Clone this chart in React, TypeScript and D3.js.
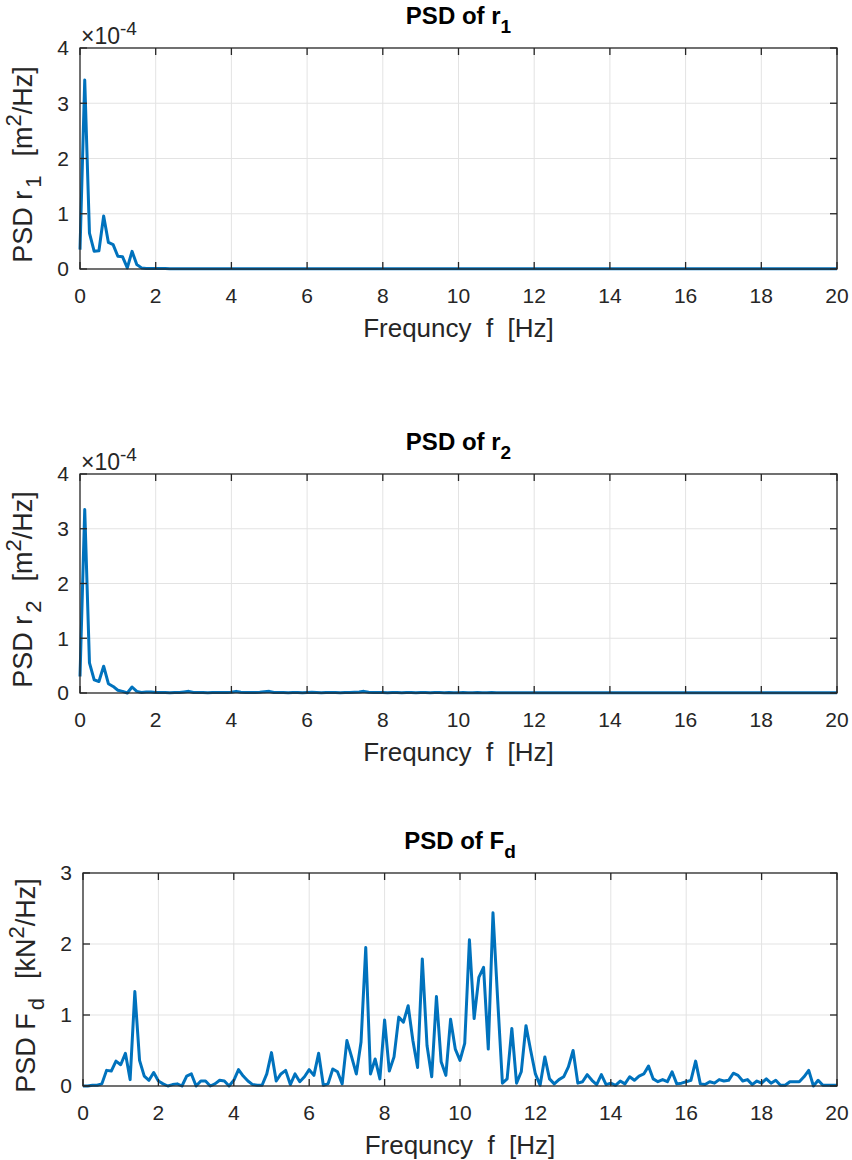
import React from "react";
import { scaleLinear, line, range } from "d3";

// frequency bins are 0.125 Hz apart, 0 .. 20 Hz
const freqStep = 0.125;
const xTicks = [0, 2, 4, 6, 8, 10, 12, 14, 16, 18, 20];

// PSD of r1, units of 1e-4 m^2/Hz
const psdR1 = [
  0.35, 3.42, 0.65, 0.32, 0.33, 0.96, 0.48, 0.44, 0.23, 0.22, 0.02, 0.32, 0.08, 0.02, 0.01, 0.01, 0.01, 0.01, 0.01, 0.005,
  0.005, 0.005, 0.005, 0.005, 0.005, 0.004, 0.004, 0.004, 0.004, 0.004, 0.004, 0.003, 0.003, 0.003, 0.003, 0.003, 0.003, 0.003, 0.003, 0.003,
  0.003, 0.003, 0.003, 0.003, 0.003, 0.003, 0.003, 0.003, 0.003, 0.003, 0.003, 0.003, 0.003, 0.003, 0.003, 0.003, 0.003, 0.003, 0.003, 0.003,
  0.003, 0.003, 0.003, 0.003, 0.003, 0.003, 0.003, 0.003, 0.003, 0.003, 0.003, 0.003, 0.003, 0.003, 0.003, 0.003, 0.003, 0.003, 0.003, 0.003,
  0.003, 0.003, 0.003, 0.003, 0.003, 0.003, 0.003, 0.003, 0.003, 0.003, 0.003, 0.003, 0.003, 0.003, 0.003, 0.003, 0.003, 0.003, 0.003, 0.003,
  0.003, 0.003, 0.003, 0.003, 0.003, 0.003, 0.003, 0.003, 0.003, 0.003, 0.003, 0.003, 0.003, 0.003, 0.003, 0.003, 0.003, 0.003, 0.003, 0.003,
  0.003, 0.003, 0.003, 0.003, 0.003, 0.003, 0.003, 0.003, 0.003, 0.003, 0.003, 0.003, 0.003, 0.003, 0.003, 0.003, 0.003, 0.003, 0.003, 0.003,
  0.003, 0.003, 0.003, 0.003, 0.003, 0.003, 0.003, 0.003, 0.003, 0.003, 0.003, 0.003, 0.003, 0.003, 0.003, 0.003, 0.003, 0.003, 0.003, 0.003,
  0.003,
];

// PSD of r2, units of 1e-4 m^2/Hz
const psdR2 = [
  0.30, 3.35, 0.55, 0.24, 0.21, 0.49, 0.17, 0.12, 0.05, 0.03, 0.00, 0.11, 0.03, 0.01, 0.02, 0.02, 0.01, 0.01, 0.01, 0.005,
  0.01, 0.01, 0.02, 0.03, 0.01, 0.01, 0.01, 0.005, 0.01, 0.01, 0.01, 0.01, 0.015, 0.03, 0.015, 0.01, 0.01, 0.01, 0.015, 0.025,
  0.03, 0.01, 0.01, 0.01, 0.005, 0.01, 0.01, 0.005, 0.01, 0.015, 0.01, 0.005, 0.01, 0.01, 0.01, 0.005, 0.01, 0.01, 0.015, 0.02,
  0.03, 0.015, 0.01, 0.01, 0.01, 0.005, 0.01, 0.01, 0.005, 0.01, 0.01, 0.005, 0.01, 0.01, 0.005, 0.01, 0.01, 0.005, 0.01, 0.005,
  0.005, 0.01, 0.005, 0.005, 0.01, 0.005, 0.005, 0.01, 0.005, 0.005, 0.005, 0.005, 0.005, 0.005, 0.005, 0.005, 0.005, 0.005, 0.005, 0.005,
  0.005, 0.005, 0.005, 0.005, 0.005, 0.005, 0.005, 0.005, 0.005, 0.005, 0.005, 0.005, 0.005, 0.005, 0.005, 0.005, 0.005, 0.005, 0.005, 0.005,
  0.005, 0.005, 0.005, 0.005, 0.005, 0.005, 0.005, 0.005, 0.005, 0.005, 0.005, 0.005, 0.005, 0.005, 0.005, 0.005, 0.005, 0.005, 0.005, 0.005,
  0.005, 0.005, 0.005, 0.005, 0.005, 0.005, 0.005, 0.005, 0.005, 0.005, 0.005, 0.005, 0.005, 0.005, 0.005, 0.005, 0.005, 0.005, 0.005, 0.005,
  0.005,
];

// PSD of Fd, kN^2/Hz
const psdFd = [
  0.00, 0.00, 0.01, 0.01, 0.03, 0.22, 0.21, 0.35, 0.30, 0.46, 0.09, 1.33, 0.36, 0.14, 0.08, 0.19, 0.07, 0.03, 0.00, 0.02,
  0.03, 0.00, 0.14, 0.17, 0.00, 0.07, 0.07, 0.00, 0.03, 0.08, 0.07, 0.00, 0.08, 0.23, 0.14, 0.07, 0.02, 0.01, 0.01, 0.17,
  0.47, 0.07, 0.17, 0.22, 0.02, 0.17, 0.06, 0.13, 0.23, 0.15, 0.46, 0.01, 0.03, 0.24, 0.20, 0.03, 0.64, 0.41, 0.17, 0.62,
  1.95, 0.17, 0.38, 0.10, 0.93, 0.21, 0.41, 0.97, 0.90, 1.13, 0.64, 0.26, 1.79, 0.57, 0.13, 1.26, 0.34, 0.15, 0.94, 0.52,
  0.36, 0.60, 2.06, 0.95, 1.53, 1.67, 0.52, 2.44, 1.21, 0.04, 0.10, 0.81, 0.04, 0.20, 0.85, 0.50, 0.17, 0.01, 0.41, 0.10,
  0.03, 0.09, 0.13, 0.27, 0.50, 0.04, 0.06, 0.16, 0.08, 0.02, 0.16, 0.02, 0.04, 0.01, 0.07, 0.03, 0.13, 0.08, 0.14, 0.17,
  0.28, 0.10, 0.06, 0.09, 0.06, 0.20, 0.03, 0.04, 0.06, 0.08, 0.35, 0.03, 0.02, 0.06, 0.04, 0.09, 0.07, 0.08, 0.18, 0.15,
  0.07, 0.09, 0.02, 0.07, 0.04, 0.10, 0.04, 0.08, 0.01, 0.01, 0.06, 0.06, 0.06, 0.13, 0.22, 0.00, 0.08, 0.01, 0.01, 0.01,
  0.01,
];

const panels = [
  { title: "r", titleSub: "1", yName: "r", ySub: "1", yUnit: "m", values: psdR1, yTicks: [0, 1, 2, 3, 4], exponent: "-4",
    box: { left: 80, right: 837, top: 48, bottom: 269 } },
  { title: "r", titleSub: "2", yName: "r", ySub: "2", yUnit: "m", values: psdR2, yTicks: [0, 1, 2, 3, 4], exponent: "-4",
    box: { left: 80, right: 837, top: 474, bottom: 693 } },
  { title: "F", titleSub: "d", yName: "F", ySub: "d", yUnit: "kN", values: psdFd, yTicks: [0, 1, 2, 3], exponent: null,
    box: { left: 83, right: 837, top: 873, bottom: 1086 } },
];

const font = "'Liberation Sans', Arial, Helvetica, sans-serif";
const axisColor = "#262626";
const gridColor = "#e3e3e3";
const lineColor = "#0072BD";

function Panel({ p }) {
  const { left, right, top, bottom } = p.box;
  const yMax = p.yTicks[p.yTicks.length - 1];
  const x = scaleLinear().domain([0, 20]).range([left, right]);
  const y = scaleLinear().domain([0, yMax]).range([bottom, top]);
  const freqs = range(p.values.length).map((i) => i * freqStep);
  const path = line()
    .x((d, i) => x(freqs[i]))
    .y((d) => y(d))(p.values);
  const midX = (left + right) / 2;
  const midY = (top + bottom) / 2;
  const tickLen = 7;

  return (
    <g fontFamily={font} fill={axisColor}>
      {/* grid */}
      {xTicks.slice(1, -1).map((t) => (
        <line key={"gx" + t} x1={x(t)} x2={x(t)} y1={top} y2={bottom} stroke={gridColor} strokeWidth={1} />
      ))}
      {p.yTicks.slice(1, -1).map((t) => (
        <line key={"gy" + t} x1={left} x2={right} y1={y(t)} y2={y(t)} stroke={gridColor} strokeWidth={1} />
      ))}

      <path d={path} fill="none" stroke={lineColor} strokeWidth={3} strokeLinejoin="round" />

      {/* box and ticks on all sides */}
      <rect x={left} y={top} width={right - left} height={bottom - top} fill="none" stroke={axisColor} strokeWidth={1.3} />
      {xTicks.map((t) => (
        <g key={"tx" + t}>
          <line x1={x(t)} x2={x(t)} y1={bottom} y2={bottom - tickLen} stroke={axisColor} strokeWidth={1.3} />
          <line x1={x(t)} x2={x(t)} y1={top} y2={top + tickLen} stroke={axisColor} strokeWidth={1.3} />
          <text x={x(t)} y={bottom + 19} dy="0.71em" textAnchor="middle" fontSize={21}>{t}</text>
        </g>
      ))}
      {p.yTicks.map((t) => (
        <g key={"ty" + t}>
          <line x1={left} x2={left + tickLen} y1={y(t)} y2={y(t)} stroke={axisColor} strokeWidth={1.3} />
          <line x1={right} x2={right - tickLen} y1={y(t)} y2={y(t)} stroke={axisColor} strokeWidth={1.3} />
          <text x={left - 11} y={y(t)} dy="0.35em" textAnchor="end" fontSize={21}>{t}</text>
        </g>
      ))}

      {p.exponent && (
        <text x={left + 1} y={top - 4} fontSize={23}>
          ×10<tspan dy={-9} fontSize={19}>{p.exponent}</tspan>
        </text>
      )}

      {/* title */}
      <text x={midX} y={top - 24} textAnchor="middle" fontSize={24} fontWeight="bold" fill="#000">
        PSD of {p.title}
        <tspan dy={9} fontSize={19}>{p.titleSub}</tspan>
      </text>

      {/* x label */}
      <text x={midX} y={bottom + 68} textAnchor="middle" fontSize={26} style={{ whiteSpace: "pre" }}>
        {"Frequncy  f  [Hz]"}
      </text>

      {/* y label */}
      <text
        transform={`translate(${left - 48},${midY + 6}) rotate(-90)`}
        textAnchor="middle"
        fontSize={27}
        style={{ whiteSpace: "pre" }}
      >
        {"PSD " + p.yName}
        <tspan dx={3} dy={9} fontSize={22}>{p.ySub}</tspan>
        <tspan dx={4} dy={-9}>{"  [" + p.yUnit}</tspan>
        <tspan dy={-11} fontSize={22}>2</tspan>
        <tspan dy={11}>/Hz]</tspan>
      </text>
    </g>
  );
}

export default function App() {
  return (
    <svg
      width={852}
      height={1160}
      style={{ position: "absolute", left: 0, top: 0, background: "#fff" }}
    >
      <rect width={852} height={1160} fill="#fff" />
      {panels.map((p, i) => (
        <Panel key={i} p={p} />
      ))}
    </svg>
  );
}
